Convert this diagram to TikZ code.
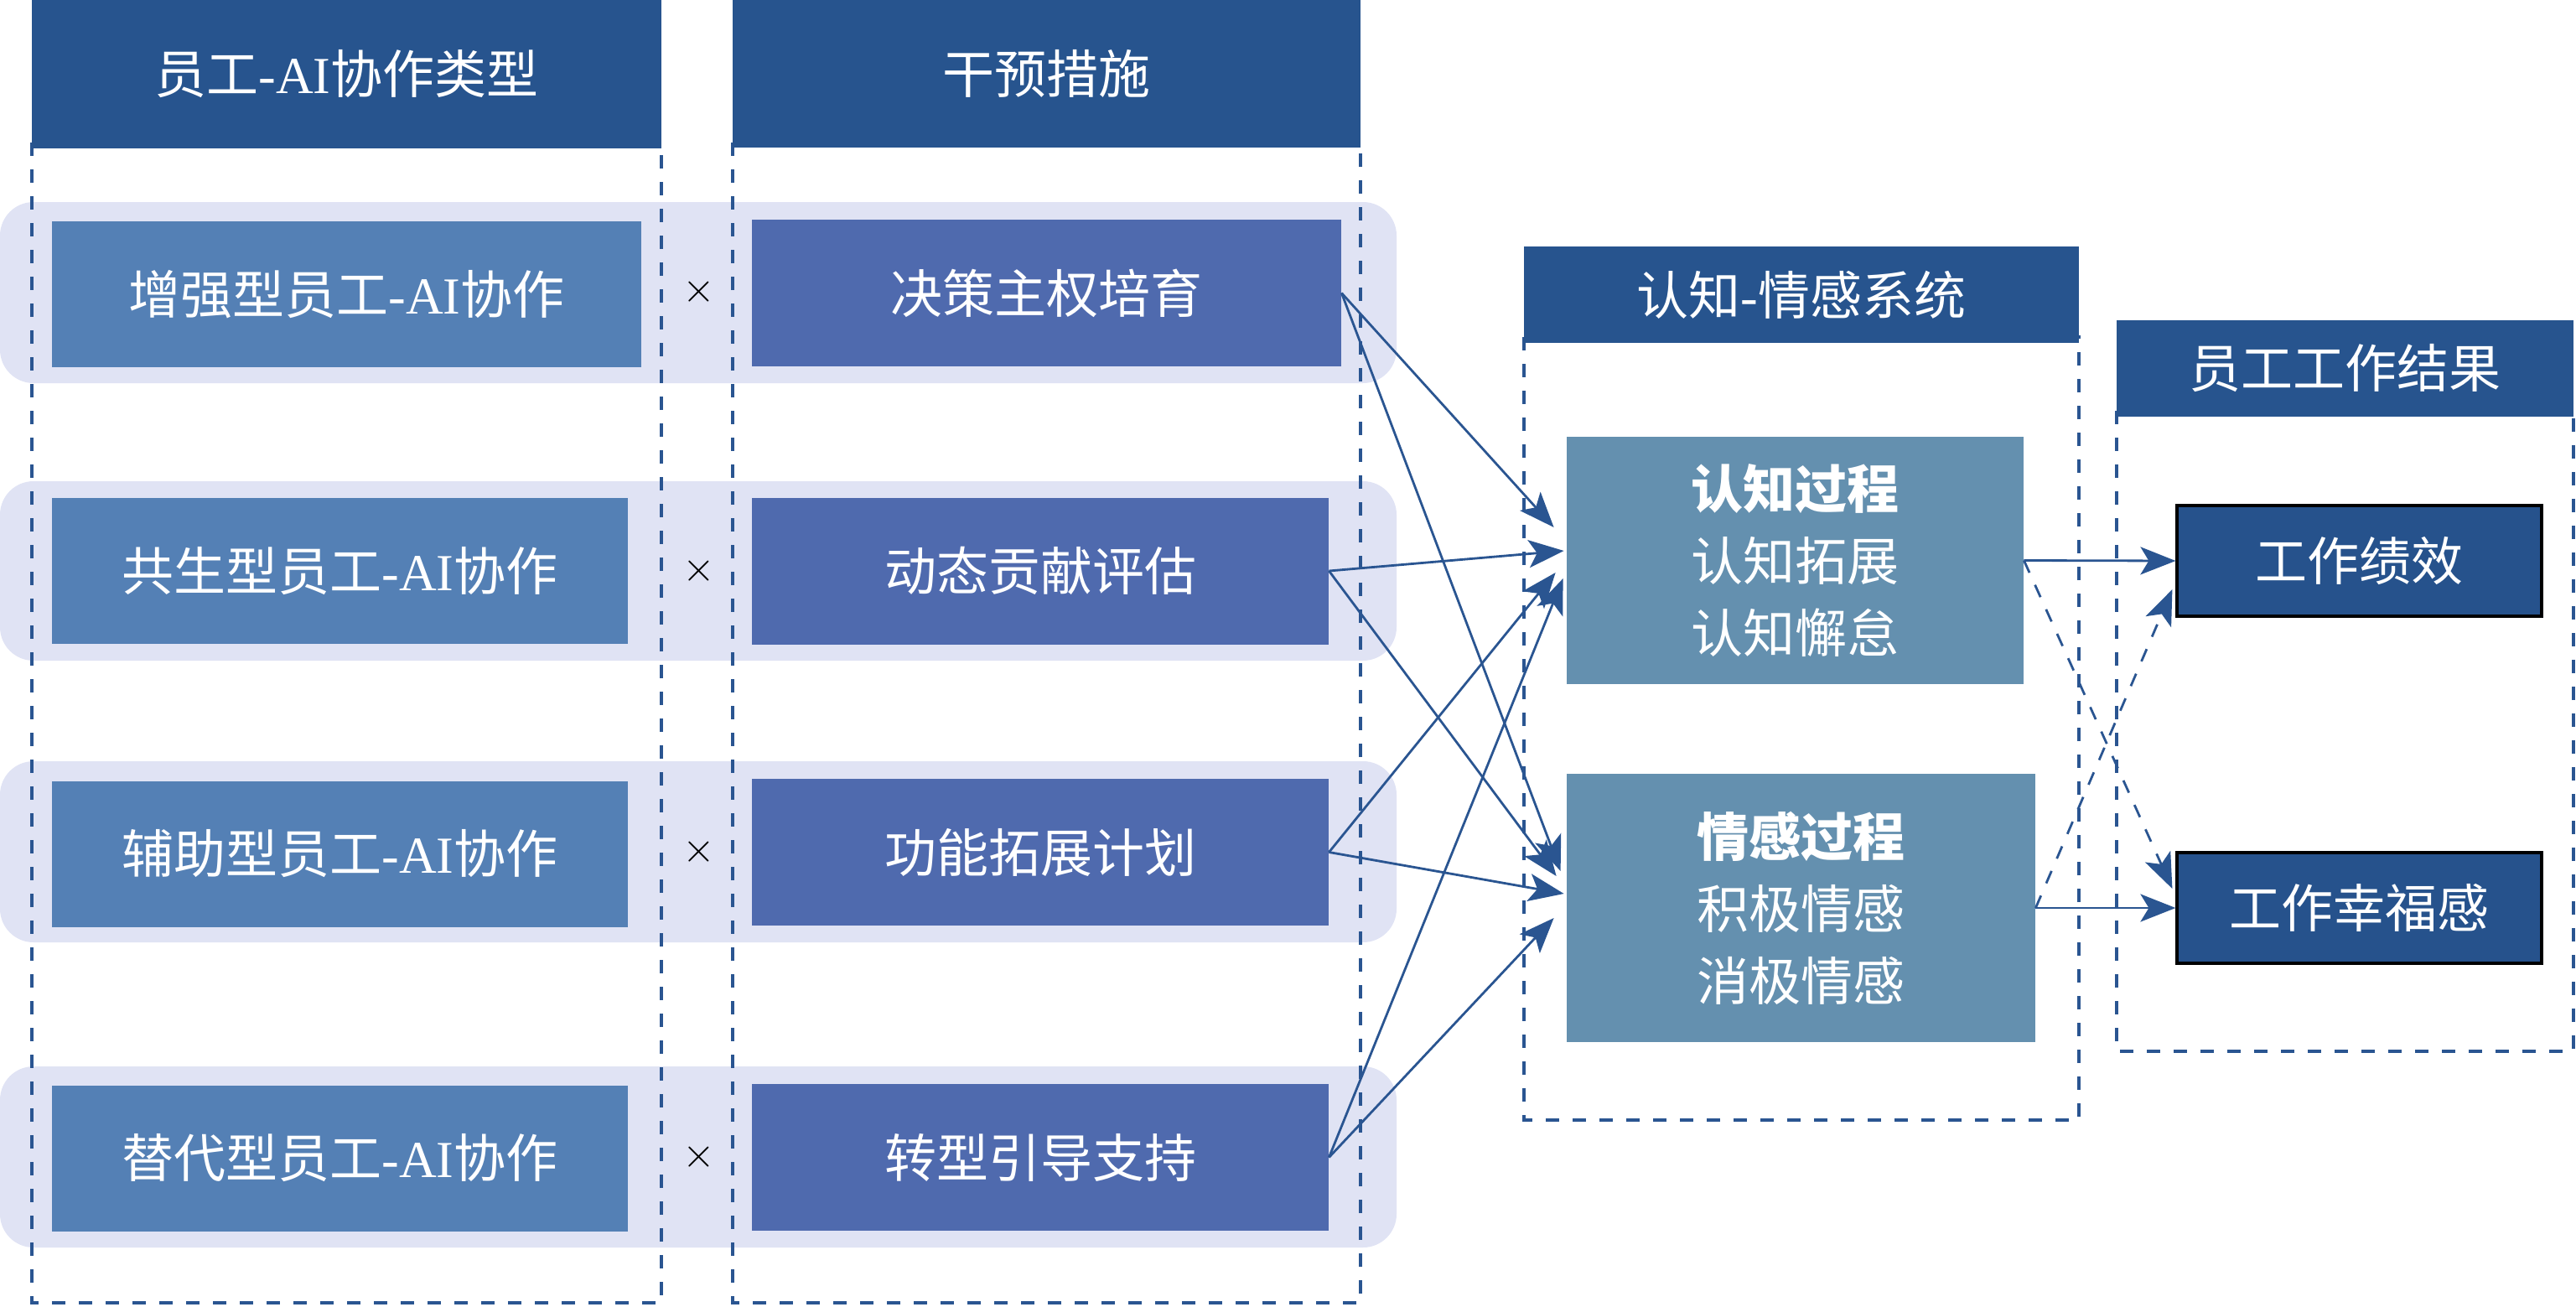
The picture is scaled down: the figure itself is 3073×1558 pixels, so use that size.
\documentclass[tikz,border=0pt]{standalone}
\usepackage{fontspec}
\setmainfont{Liberation Serif}
\newfontfamily\cjk{Noto Sans CJK SC}
\usetikzlibrary{arrows.meta,calc}
\definecolor{hdr}{HTML}{27548E}
\definecolor{lcol}{HTML}{5480B5}
\definecolor{mcol}{HTML}{4F6AAE}
\definecolor{pcol}{HTML}{6490AF}
\definecolor{rcol}{HTML}{26528C}
\definecolor{bandcol}{HTML}{E0E3F4}
\definecolor{fcol}{HTML}{2A5591}
\definecolor{acol}{HTML}{2A5591}
\newcommand\myAI{{\rmfamily -AI}}
\tikzset{
  txt/.style={text=white, font=\cjk\fontsize{31}{43}\selectfont, align=center, inner sep=0pt},
  hdrbox/.style={txt, fill=hdr},
  lbox/.style={txt, fill=lcol, minimum height=87pt},
  mbox/.style={txt, fill=mcol, minimum height=87.5pt},
  pbox/.style={txt, fill=pcol},
  rbox/.style={txt, fill=rcol, draw=black, line width=1.6pt, minimum width=217.5pt, minimum height=66pt},
  frame/.style={draw=fcol, line width=1.6pt, dash pattern=on 8pt off 8pt},
  band/.style={fill=bandcol, rounded corners=20pt},
  arr/.style={draw=acol, line width=1.4pt, -{Stealth[length=21pt,width=16.5pt,inset=5pt]}},
  darr/.style={arr, dash pattern=on 8pt off 8pt},
  timesmark/.style={font=\fontsize{24}{24}\selectfont, inner sep=0pt}
}
\begin{document}
\begin{tikzpicture}[x=0.5pt,y=-0.5pt]
\useasboundingbox (0,0) rectangle (3073,1558);
% bands
\fill[band] (0,241) rectangle (1666,457);
\fill[band] (0,574) rectangle (1666,788);
\fill[band] (0,908) rectangle (1666,1124);
\fill[band] (0,1272) rectangle (1666,1488);
% dashed frames
\draw[frame] (38,170) rectangle (789,1554);
\draw[frame] (874,170) rectangle (1623,1554);
\draw[frame] (1818,402) rectangle (2480,1336);
\draw[frame] (2525,490) rectangle (3070,1254);
% headers
\node[hdrbox, minimum width=375.5pt, minimum height=88.5pt] (h1) at (413.5,88.5) {员工\myAI 协作类型};
\node[hdrbox, minimum width=374.5pt, minimum height=88pt] (h2) at (1248.5,88) {干预措施};
\node[hdrbox, minimum width=331pt, minimum height=57.5pt] (h3) at (2149,351.5) {认知{\rmfamily -}情感系统};
\node[hdrbox, minimum width=272.5pt, minimum height=57.5pt] (h4) at (2797.5,439.5) {员工工作结果};
% left boxes
\node[lbox, minimum width=351.5pt] (l1) at (413.5,351) {增强型员工\myAI 协作};
\node[lbox, minimum width=343.5pt] (l2) at (405.5,681) {共生型员工\myAI 协作};
\node[lbox, minimum width=343.5pt] (l3) at (405.5,1018.5) {辅助型员工\myAI 协作};
\node[lbox, minimum width=343.5pt] (l4) at (405.5,1381.5) {替代型员工\myAI 协作};
% times marks
\node[timesmark] (x1) at (834,348) {$\times$};
\node[timesmark] (x2) at (834,681) {$\times$};
\node[timesmark] (x3) at (834,1016) {$\times$};
\node[timesmark] (x4) at (834,1380) {$\times$};
% middle boxes
\node[mbox, minimum width=351.5pt] (m1) at (1248.5,349.5) {决策主权培育};
\node[mbox, minimum width=344pt] (m2) at (1241,681) {动态贡献评估};
\node[mbox, minimum width=344pt] (m3) at (1241,1016.5) {功能拓展计划};
\node[mbox, minimum width=344pt] (m4) at (1241,1380.5) {转型引导支持};
% process boxes
\node[pbox, minimum width=272.5pt, minimum height=147.5pt] (cog) at (2141.5,668.5) {{\bfseries 认知过程}\\认知拓展\\认知懈怠};
\node[pbox, minimum width=279.5pt, minimum height=160pt] (emo) at (2148.5,1083) {{\bfseries 情感过程}\\积极情感\\消极情感};
% result boxes
\node[rbox] (r1) at (2814.5,669) {工作绩效};
\node[rbox] (r2) at (2814.5,1083) {工作幸福感};
% arrows into process boxes
\draw[arr] (m1.east) -- ($(cog.west)+(-15,-39.5)$);
\draw[arr] (m1.east) -- ($(emo.west)+(-7,-44)$);
\draw[arr] (m2.east) -- ($(cog.west)+(-3,-11.5)$);
\draw[arr] (m2.east) -- ($(emo.west)+(-12,-38)$);
\draw[arr] (m3.east) -- ($(cog.west)+(-13,14.5)$);
\draw[arr] (m3.east) -- ($(emo.west)+(-3,-17)$);
\draw[arr] (m4.east) -- ($(cog.west)+(-4,21.5)$);
\draw[arr] (m4.east) -- ($(emo.west)+(-15,12)$);
% arrows to results
\draw[arr] (cog.east) -- (r1.west);
\draw[darr] (cog.east) -- ($(r2.west)+(-4,-23)$);
\draw[arr] (emo.east) -- (r2.west);
\draw[darr] (emo.east) -- ($(r1.west)+(-4,34)$);
\end{tikzpicture}
\end{document}
